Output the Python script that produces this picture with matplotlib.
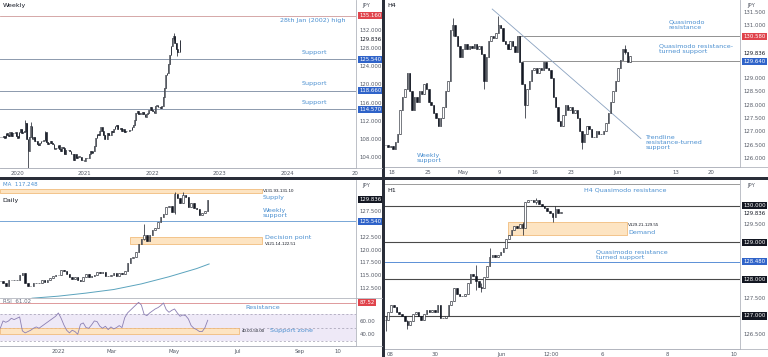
import numpy as np
import matplotlib
matplotlib.use("Agg")
import matplotlib.pyplot as plt
from matplotlib.lines import Line2D
from matplotlib.patches import Rectangle
from matplotlib.transforms import blended_transform_factory, offset_copy

W, H = 768, 357

# ---- weekly USD/JPY closes (one per week, from Oct 2019) ----
weekly_close = [108.4, 108.4, 108.6, 108.2, 109.3, 108.8, 108.7, 109.5, 108.6, 109.4,
                109.4, 109.5, 108.7, 108.1, 109.5, 110.1, 109.3, 109.5, 109.8, 111.6,
                107.9, 105.4, 108.4, 110.8, 107.9, 108.5, 107.5, 107.5, 106.9, 106.6,
                107.0, 107.6, 107.6, 107.8, 109.6, 107.4, 106.9, 107.2, 107.5, 107.0,
                106.9, 105.8, 105.9, 105.9, 106.6, 105.8, 105.4, 106.2, 106.1, 104.6,
                105.6, 105.5, 105.6, 105.4, 104.7, 104.7, 103.4, 104.6, 103.8, 104.1,
                104.2, 104.0, 103.4, 103.3, 103.2, 103.9, 103.8, 103.8, 104.7, 105.4,
                104.9, 105.4, 106.5, 108.3, 109.0, 108.9, 109.7, 110.6, 109.7, 108.8,
                107.9, 107.9, 109.3, 108.9, 108.9, 109.8, 109.6, 110.2, 110.8, 111.0,
                110.1, 110.1, 110.5, 109.7, 110.2, 109.6, 109.8, 109.8, 109.7, 109.9,
                109.9, 110.7, 111.0, 112.2, 113.8, 114.2, 113.5, 113.7, 113.4, 114.0,
                113.4, 112.8, 113.5, 113.7, 114.3, 115.1, 114.4, 114.1, 113.7, 115.2,
                115.4, 115.0, 115.0, 114.8, 115.2, 117.3, 119.2, 122.1, 122.5, 124.4,
                126.4, 128.5, 130.2, 130.6, 129.2, 127.8, 127.1, 127.2, 129.8]
weekly_wicks = {19: (109.5, 112.2), 21: (101.2, 107.9), 23: (108.4, 111.7),
                34: (107.6, 109.8), 133: (129.8, 131.3), 136: (126.3, 127.8)}
weekly_levels = [125.54, 118.66, 114.57]
weekly_high = 135.16

# ---- H4 closes (8h samples, trading days from 18 Apr 2022) ----
h4_close = [126.5, 126.4, 126.45, 126.35, 126.6, 126.9, 127.8, 128.3, 128.6, 129.2,
            128.5, 127.8, 128.3, 128.1, 128.5, 128.4, 128.8, 128.6, 128.1, 128.0,
            127.7, 127.5, 127.2, 127.5, 127.9, 128.5, 128.9, 130.8, 131.0, 130.6,
            130.2, 129.8, 130.1, 130.3, 130.1, 130.2, 130.15, 130.3, 130.1, 130.2,
            129.9, 128.9, 129.8, 130.4, 130.6, 130.5, 130.7, 131.0, 130.9, 130.4,
            130.3, 130.1, 130.4, 130.2, 130.0, 130.6, 129.6, 128.8, 128.0, 128.6,
            128.9, 129.3, 129.4, 129.2, 129.4, 129.3, 129.6, 129.4, 129.3, 129.0,
            128.3, 127.9, 127.4, 127.2, 127.6, 128.0, 127.8, 127.9, 127.7, 127.8,
            127.5, 127.0, 126.6, 126.9, 127.2, 127.1, 126.8, 126.8, 127.0, 126.9,
            126.9, 127.0, 127.3, 127.7, 128.1, 128.5, 128.9, 129.4, 129.7, 130.1,
            130.0, 129.6, 129.836]
h4_wicks = {28: (130.6, 131.25), 41: (128.6, 129.9), 47: (130.7, 131.35),
            58: (127.5, 128.8), 82: (126.35, 127.0), 100: (129.9, 130.25)}
h4_qm_res = 130.58
h4_qm_sup = 129.64
h4_trend = ([14.0, 34.7], [131.6, 126.73])

# ---- daily closes (every 2nd session, from 3 Nov 2021) ----
daily_close = [113.9, 113.4, 112.9, 114.1, 114.1, 114.1, 114.0, 115.1, 115.4, 113.5,
               112.8, 112.8, 113.5, 113.5, 113.5, 114.1, 113.7, 114.1, 114.4, 114.8,
               115.0, 115.1, 116.1, 115.9, 115.3, 114.6, 114.2, 114.6, 114.1, 113.9,
               114.7, 115.3, 114.7, 114.9, 115.1, 115.6, 115.4, 115.6, 114.9, 114.8,
               115.0, 115.5, 114.9, 115.5, 115.3, 115.8, 117.3, 118.3, 118.6, 119.5,
               121.1, 122.1, 122.9, 121.7, 122.8, 123.8, 124.3, 125.4, 126.4, 127.0,
               128.3, 128.5, 127.3, 130.8, 130.1, 129.1, 130.6, 130.4, 128.3, 129.2,
               128.2, 127.9, 126.8, 127.1, 127.6, 129.8]
daily_wicks = {52: (121.8, 125.1), 63: (127.0, 131.25), 66: (129.1, 131.35)}
ma_days = [-19, 0, 20, 40, 60, 80, 100, 109]
ma_vals = [110.5, 110.9, 111.5, 112.2, 113.3, 114.7, 116.3, 117.2]
rsi_vals = [49, 60, 58, 60, 64, 62, 64, 66, 45, 42, 44, 46, 49, 51, 49, 52, 55, 58, 61, 64,
            67, 72, 64, 54, 46, 42, 46, 44, 40, 55, 57, 50, 49, 54, 60, 59, 52, 49, 52, 47,
            51, 48, 50, 53, 50, 65, 72, 76, 80, 84, 88, 84, 70, 68, 72, 75, 78, 80, 83, 87,
            77, 73, 76, 78, 72, 67, 69, 68, 63, 53, 49, 47, 44, 44, 50, 61]
supply = (131.10, 131.93)
decision = (121.14, 122.51)
weekly_sup = 125.54
rsi_res = 87.52

# ---- H1 closes (2h samples, hours from 1 Jun 2022 00:00) ----
h1_close = [126.9, 127.1, 127.3, 127.25, 127.1, 127.05, 127.0, 126.85, 126.75, 126.85,
            127.05, 127.1, 127.0, 126.9, 127.05, 127.15, 127.1, 127.15, 127.1, 127.3,
            126.95, 126.95, 127.0, 127.3, 127.4, 127.75, 127.6, 127.55, 127.55, 127.6,
            127.9, 128.15, 128.1, 127.95, 127.8, 127.75, 128.05, 128.35, 128.6, 128.65,
            128.6, 128.65, 128.75, 128.85, 129.1, 129.2, 129.35, 129.45, 129.4, 129.5,
            129.4, 130.1, 130.15, 130.15, 130.1, 130.15, 130.05, 130.0, 129.95, 129.85,
            129.8, 129.7, 129.9, 129.8, 129.836]
h1_wicks = {0: (126.6, 127.0), 8: (126.65, 126.9), 33: (127.7, 128.4), 35: (127.65, 127.9),
            38: (128.5, 128.85), 50: (129.2, 129.55), 55: (130.05, 130.2), 61: (129.57, 129.8),
            62: (129.7, 130.0)}
h1_levels = [130.0, 129.0, 128.0, 127.0]
h1_qm_res = 130.58
h1_qm_sup = 128.48
demand = (129.21, 129.55)

INK = "#131722"
BLUE_TXT = "#4a8fd0"
TICK = "#555a66"
AXLINE = "#b2b5be"
FS = 3.9

plt.rcParams["font.family"] = "DejaVu Sans"
fig = plt.figure(figsize=(W / 100, H / 100), dpi=100)
fig.patch.set_facecolor("white")


def rect(x0, y0, x1, y1):
    return [x0 / W, 1 - y1 / H, (x1 - x0) / W, (y1 - y0) / H]


def fig_line(x0, y0, x1, y1, color=AXLINE, lw=0.6):
    fig.add_artist(Line2D([x0 / W, x1 / W], [1 - y0 / H, 1 - y1 / H],
                          transform=fig.transFigure, color=color, lw=lw))


def candles(ax, xs, closes, width, wicks):
    closes = np.asarray(closes, dtype=float)
    xs = np.asarray(xs, dtype=float)
    opens = np.r_[closes[0], closes[:-1]]
    lows = np.minimum(opens, closes)
    highs = np.maximum(opens, closes)
    for i, (lo, hi) in wicks.items():
        lows[i] = min(lows[i], lo)
        highs[i] = max(highs[i], hi)
    ax.vlines(xs, lows, highs, color=INK, lw=0.5, zorder=3)
    up = closes >= opens
    ax.bar(xs[up], closes[up] - opens[up], width, bottom=opens[up],
           color="white", edgecolor=INK, lw=0.4, zorder=4)
    ax.bar(xs[~up], opens[~up] - closes[~up], width, bottom=closes[~up],
           color=INK, edgecolor=INK, lw=0.4, zorder=4)


def style(ax, yticks, fmt, xticks=None, xlabels=None, bottom=True):
    for s in ["top", "left"]:
        ax.spines[s].set_visible(False)
    ax.spines["right"].set_color(AXLINE)
    ax.spines["right"].set_linewidth(0.6)
    ax.spines["bottom"].set_color(AXLINE)
    ax.spines["bottom"].set_linewidth(0.6)
    ax.yaxis.tick_right()
    ax.set_yticks(yticks)
    ax.set_yticklabels([fmt % v for v in yticks])
    ax.tick_params(axis="y", length=0, labelsize=FS, colors=TICK, pad=2.5)
    if xticks is not None:
        ax.set_xticks(xticks)
        ax.set_xticklabels(xlabels)
    else:
        ax.set_xticks([])
    ax.tick_params(axis="x", length=0, labelsize=FS, colors=TICK, pad=2)
    if not bottom:
        ax.tick_params(axis="x", labelbottom=False)


def tag(ax, y, text, fc, tc="white"):
    tr = offset_copy(blended_transform_factory(ax.transAxes, ax.transData),
                     fig=fig, x=3.5, y=0, units="dots")
    ax.text(1.0, y, text, transform=tr, ha="left", va="center",
            fontsize=FS, color=tc, clip_on=False, zorder=10,
            bbox=dict(boxstyle="square,pad=0.2", fc=fc, ec="none"))


def last_price(ax, y, text="129.836"):
    tr = offset_copy(blended_transform_factory(ax.transAxes, ax.transData),
                     fig=fig, x=3.5, y=0, units="dots")
    ax.text(1.0, y, text, transform=tr, ha="left", va="center",
            fontsize=FS, color=INK, clip_on=False, zorder=9)


def note(ax, x, y, text, color=BLUE_TXT, size=4.6, **kw):
    ax.text(x, y, text, color=color, fontsize=size, va="center", ha="left",
            linespacing=1.0, zorder=8, **kw)


def small(ax, x, y, text):
    ax.text(x, y, text, color=INK, fontsize=3.2, va="center", ha="left",
            family="Liberation Sans", zorder=8)


# ================= Weekly =================
ax = fig.add_axes(rect(0, 0, 356, 168))
wx = 2019.76 + np.arange(len(weekly_close)) / 52.0
candles(ax, wx, weekly_close, 0.012, weekly_wicks)
ax.axhline(weekly_high, color="#cf9a9a", lw=0.6)
for lv in weekly_levels:
    ax.axhline(lv, color="#8c99ad", lw=0.7)
ax.set_xlim(2019.748, 2025.02)
ax.set_ylim(101.6, 138.6)
style(ax, np.arange(104, 133, 4), "%.3f",
      [2020, 2021, 2022, 2023, 2024, 2025], ["2020", "2021", "2022", "2023", "2024", "20"])
tag(ax, weekly_high, "135.160", "#e0444c")
last_price(ax, 129.836)
for lv in weekly_levels:
    tag(ax, lv, "%.3f" % lv, "#2f63c9")
ax.text(2024.87, 134.0, "28th Jan (2002) high", color=BLUE_TXT, fontsize=4.6,
        ha="right", va="center")
note(ax, 2024.21, 127.1, "Support")
note(ax, 2024.21, 120.3, "Support")
note(ax, 2024.21, 116.1, "Support")
ax.text(0.008, 0.965, "Weekly", transform=ax.transAxes, fontsize=4.6, color=INK,
        va="center")

# ================= H4 =================
ax = fig.add_axes(rect(385, 0, 740, 167))
hx = -0.83 + np.arange(len(h4_close)) / 3.0
candles(ax, hx, h4_close, 0.2, h4_wicks)
ax.hlines(h4_qm_res, 17.6, 48.5, color="#808080", lw=0.6)
ax.hlines(h4_qm_sup, 18.1, 48.5, color="#808080", lw=0.6)
ax.plot(h4_trend[0], h4_trend[1], color="#8aa2c0", lw=0.6)
ax.set_xlim(-0.93, 48.5)
ax.set_ylim(125.66, 131.94)
style(ax, [126.0, 126.5, 127.0, 127.5, 128.0, 128.5, 129.0, 131.0, 131.5], "%.3f",
      [0, 5, 10, 15, 20, 25, 31.5, 39.6, 44.5],
      ["18", "25", "May", "9", "16", "23", "Jun", "13", "20"])
tag(ax, h4_qm_res, "130.580", "#e0444c")
last_price(ax, 129.92)
tag(ax, h4_qm_sup, "129.640", "#2f63c9")
note(ax, 38.5, 131.0, "Quasimodo\nresistance")
note(ax, 37.2, 130.1, "Quasimodo resistance-\nturned support")
note(ax, 35.3, 126.6, "Trendline\nresistance-turned\nsupport")
note(ax, 3.5, 126.0, "Weekly\nsupport")
ax.text(0.006, 0.965, "H4", transform=ax.transAxes, fontsize=4.6, color=INK, va="center")

# ================= Daily =================
axd = fig.add_axes(rect(0, 180, 356, 298))
dx = -42 + 2.0 * np.arange(len(daily_close))
candles(axd, dx, daily_close, 1.1, daily_wicks)
axd.plot(ma_days, ma_vals, color="#5aa3bd", lw=0.7, zorder=2)
axd.axhline(weekly_sup, color="#77a6d6", lw=0.7)
for (lo, hi), x0 in [(supply, -42.2), (decision, 51.8)]:
    axd.fill_between([x0, 147], lo, hi, facecolor="#fde4c2", edgecolor="#f0b36a",
                     lw=0.5, zorder=1)
axd.set_xlim(-42.2, 215.2)
axd.set_ylim(110.54, 133.63)
style(axd, [112.5, 115.0, 117.5, 120.0, 122.5, 127.5], "%.3f", bottom=False)
tag(axd, 129.836, "129.836", INK)
tag(axd, weekly_sup, "125.540", "#2f63c9")
small(axd, 148, 131.47, "V131.93-131.10")
note(axd, 148, 130.3, "Supply")
note(axd, 148, 127.2, "Weekly\nsupport")
note(axd, 149.5, 122.3, "Decision point")
small(axd, 149.5, 121.1, "V121.14-122.51")
axd.text(0.008, 0.966, "MA  117.248", transform=axd.transAxes, fontsize=4.0,
         color=BLUE_TXT, va="center", zorder=9)
axd.text(0.008, 0.83, "Daily", transform=axd.transAxes, fontsize=4.6, color=INK,
         va="center")

# ---- RSI ----
axr = fig.add_axes(rect(0, 298, 356, 346))
rx = -42 + 2.0 * np.arange(len(rsi_vals))
axr.fill_between([-42.2, 215.2], 30, 70, color="#eee9f7", lw=0, zorder=0)
for lv in [70, 50, 30]:
    axr.axhline(lv, color="#a09cb0", lw=0.5, ls=(0, (3, 3)), zorder=1)
axr.fill_between([-42.2, 130.8], 40, 50, facecolor="#fde4c2", edgecolor="#f0b36a",
                 lw=0.5, zorder=1)
axr.axhline(rsi_res, color="#d9898c", lw=0.6)
axr.plot(rx, rsi_vals, color="#8b7fb3", lw=0.6, zorder=3)
axr.set_xlim(-42.2, 215.2)
axr.set_ylim(22.3, 94.5)
style(axr, [40, 60], "%.2f", [0, 38.8, 83.4, 129.9, 174.7, 201.9],
      ["2022", "Mar", "May", "Jul", "Sep", "10"])
tag(axr, rsi_res, "87.52", "#e0444c")
axr.text(148, 79.8, "Resistance", color=BLUE_TXT, fontsize=4.6, ha="center", va="center")
small(axr, 132.5, 45, "40.00-50.00")
note(axr, 153.0, 45, "Support zone")
axr.text(0.008, 0.917, "RSI  61.02", transform=axr.transAxes, fontsize=4.0,
         color="#6b6f80", va="center")

# ================= H1 =================
ax = fig.add_axes(rect(385, 180, 740, 349))
ix = -85 + 2.0 * np.arange(len(h1_close))
candles(ax, ix, h1_close, 1.2, h1_wicks)
ax.fill_between([4.4, 91], demand[0], demand[1], facecolor="#fde4c2",
                edgecolor="#f0b36a", lw=0.5, zorder=1)
for lv in h1_levels:
    ax.axhline(lv, color="#4a4a4a", lw=0.8, zorder=2)
ax.axhline(h1_qm_res, color="#8a8a8a", lw=0.6)
ax.axhline(h1_qm_sup, color="#5b8fd6", lw=0.7)
ax.set_xlim(-85.4, 173.8)
ax.set_ylim(126.10, 130.70)
style(ax, [126.5, 127.5, 129.5], "%.3f",
      [-82, -48.5, 0, 36, 73, 121, 169], ["08", "30", "Jun", "12:00", "6", "8", "10"])
for lv in h1_levels:
    tag(ax, lv, "%.3f" % lv, INK)
last_price(ax, 129.80)
tag(ax, h1_qm_sup, "128.480", "#2f63c9")
note(ax, 60.2, 130.43, "H4 Quasimodo resistance")
small(ax, 92.3, 129.48, "V129.21-129.55")
note(ax, 92.3, 129.28, "Demand")
note(ax, 68.9, 128.67, "Quasimodo resistance\nturned support")
ax.text(0.006, 0.94, "H1", transform=ax.transAxes, fontsize=4.6, color=INK, va="center")

# ---- frame lines and separators ----
fig_line(0, 168, 382, 168)
fig_line(385, 167, 768, 167)
fig_line(0, 298, 382, 298)
fig_line(0, 346, 382, 346)
fig_line(385, 349, 768, 349)
for x, y in [(362, 5), (747, 5), (362, 186), (747, 186)]:
    fig.text(x / W, 1 - y / H, "JPY", fontsize=FS, color=TICK, va="center")
fig.add_artist(Rectangle((0, 1 - 179.5 / H), 1, 3 / H, transform=fig.transFigure,
                         color="#2a2e39", lw=0))
fig.add_artist(Rectangle((382 / W, 0), 3 / W, 1, transform=fig.transFigure,
                         color="#2a2e39", lw=0))

fig.savefig("out.png", dpi=100, facecolor="white")
